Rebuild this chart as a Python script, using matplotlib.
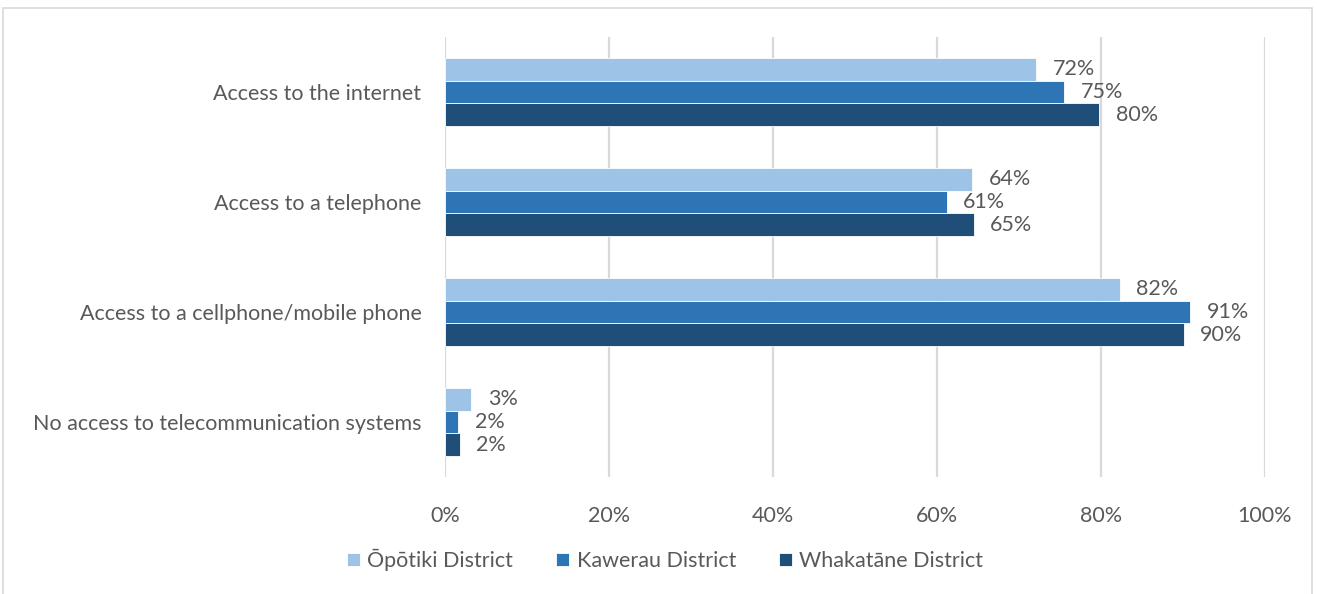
import numpy as np
import matplotlib.pyplot as plt
from matplotlib.patches import Rectangle

plt.rcParams["font.family"] = ["Lato", "DejaVu Sans"]

categories = ['Access to the internet', 'Access to a telephone',
              'Access to a cellphone/mobile phone', 'No access to telecommunication systems']
opotiki = [72.1, 64.3, 82.3, 3.2]
kawerau = [75.5, 61.2, 90.9, 1.6]
whakatane = [79.8, 64.5, 90.1, 1.8]
labels_op = ['72%', '64%', '82%', '3%']
labels_ka = ['75%', '61%', '91%', '2%']
labels_wh = ['80%', '65%', '90%', '2%']
series = ['Ōpōtiki District', 'Kawerau District', 'Whakatāne District']
colors = ['#9DC3E6', '#2E75B6', '#1F4E79']
text_col = '#595959'
grid_col = '#D9D9D9'

fig = plt.figure(figsize=(13.17, 5.94), dpi=100)
ax = fig.add_axes([0.3379, 0.197, 0.6226, 0.7408])

y = np.arange(len(categories))
h = 0.205
for i, (vals, labs) in enumerate([(opotiki, labels_op), (kawerau, labels_ka), (whakatane, labels_wh)]):
    pos = y + (i - 1) * h
    ax.barh(pos, vals, height=h, color=colors[i], edgecolor='white', linewidth=0.6,
            label=series[i], zorder=3)
    for p, v, l in zip(pos, vals, labs):
        ax.text(v + 2.0, p, l, va='center', ha='left', fontsize=15.5, color=text_col)

ax.set_xlim(0, 100)
ax.set_ylim(3.5, -0.5)
ax.set_xticks(np.arange(0, 101, 20))
ax.set_xticklabels([f'{t}%' for t in range(0, 101, 20)])
ax.set_yticks(y)
ax.set_yticklabels(categories)
ax.tick_params(axis='both', length=0, labelsize=15.5, labelcolor=text_col)
ax.tick_params(axis='x', pad=21)
ax.tick_params(axis='y', pad=17)
ax.grid(axis='x', color=grid_col, linewidth=1.6, zorder=0)
for s in ax.spines.values():
    s.set_visible(False)

leg = fig.legend(loc='center', bbox_to_anchor=(0.505, 0.057), ncol=3, frameon=False,
                 fontsize=15.5, handlelength=0.6, handleheight=0.6, columnspacing=2.0,
                 handletextpad=0.35)
for t in leg.get_texts():
    t.set_color(text_col)

fig.patches.append(Rectangle((0.002, -0.01), 0.994, 0.997, transform=fig.transFigure,
                             fill=False, edgecolor=grid_col, linewidth=1.2))

fig.savefig('out.png', dpi=100, facecolor='white')
